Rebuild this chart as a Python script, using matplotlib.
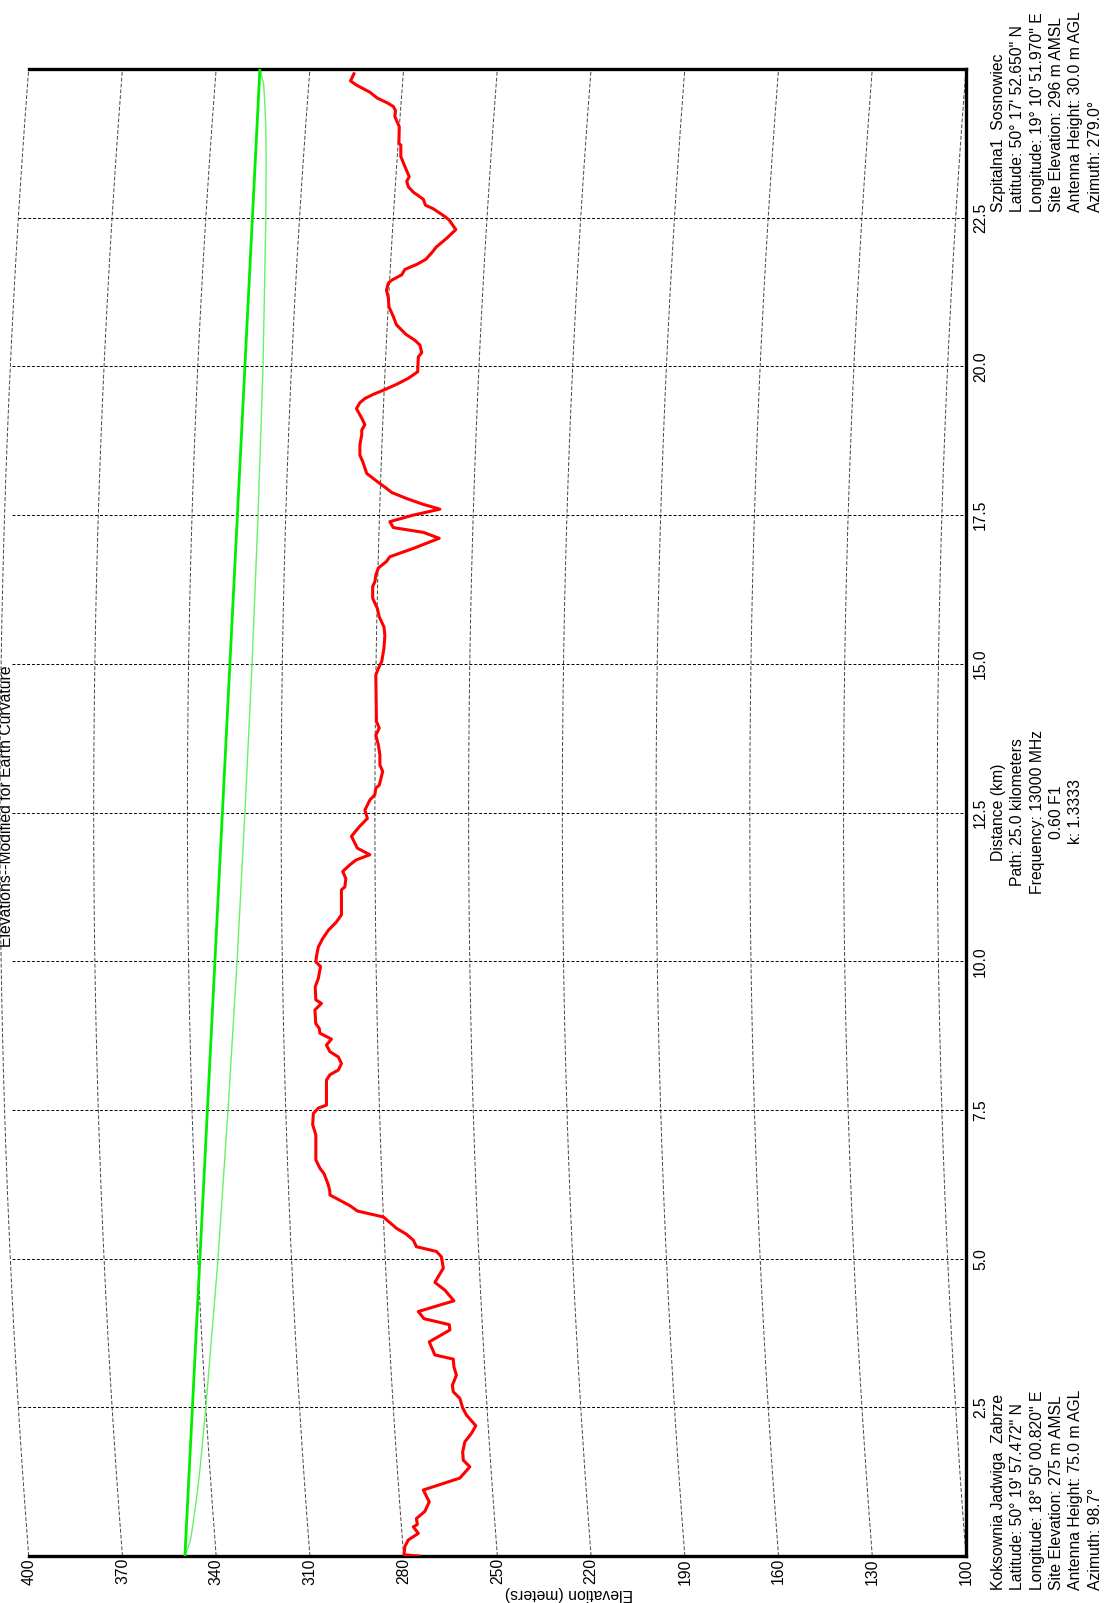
import numpy as np
import matplotlib
matplotlib.use('Agg')
import matplotlib.pyplot as plt

plt.rcParams['font.family'] = ['Liberation Sans', 'DejaVu Sans']

# path profile, distance from site A (km) and elevation as plotted (m)
dist_km = [0.00, 0.02, 0.16, 0.27, 0.38, 0.49, 0.53, 0.63, 0.75, 0.91, 1.11, 1.31, 1.50, 1.61, 1.75,
           1.92, 2.06, 2.19, 2.37, 2.49, 2.65, 2.76, 2.87, 3.04, 3.18, 3.31, 3.38, 3.60, 3.80, 3.89,
           3.99, 4.11, 4.29, 4.47, 4.60, 4.84, 5.03, 5.12, 5.20, 5.31, 5.41, 5.51, 5.70, 5.80, 5.89,
           5.98, 6.07, 6.13, 6.24, 6.43, 6.52, 6.66, 7.08, 7.25, 7.44, 7.53, 7.58, 8.00, 8.09, 8.17,
           8.28, 8.39, 8.48, 8.59, 8.69, 8.79, 8.87, 8.95, 9.18, 9.29, 9.35, 9.57, 9.71, 9.91, 9.99,
           10.08, 10.24, 10.38, 10.52, 10.66, 10.78, 11.20, 11.25, 11.39, 11.51, 11.62, 11.70, 11.79,
           11.90, 12.10, 12.26, 12.40, 12.54, 12.71, 12.80, 12.91, 12.96, 13.19, 13.30, 13.47, 13.64,
           13.80, 13.92, 14.03, 14.81, 14.92, 15.04, 15.26, 15.48, 15.62, 15.79, 15.93, 16.10, 16.30,
           16.38, 16.49, 16.61, 16.72, 16.80, 16.94, 17.11, 17.21, 17.29, 17.39, 17.50, 17.60, 17.68,
           17.78, 17.88, 17.95, 18.07, 18.20, 18.29, 18.40, 18.51, 18.68, 18.85, 18.93, 19.02, 19.13,
           19.29, 19.39, 19.46, 19.53, 19.61, 19.70, 19.80, 19.91, 20.16, 20.23, 20.36, 20.44, 20.54,
           20.70, 20.84, 21.00, 21.16, 21.28, 21.40, 21.45, 21.54, 21.63, 21.72, 21.80, 21.91, 22.01,
           22.15, 22.30, 22.46, 22.52, 22.65, 22.71, 22.81, 22.93, 23.02, 23.11, 23.19, 23.25, 23.36,
           23.53, 23.72, 23.75, 24.03, 24.20, 24.30, 24.37, 24.43, 24.51, 24.61, 24.73, 24.80, 24.92]
elev_m = [275.0, 279.9, 279.6, 278.5, 275.3, 276.9, 275.6, 275.9, 273.2, 271.8, 273.7, 262.0, 258.8, 260.9, 261.1,
          260.4, 258.3, 256.9, 259.9, 261.1, 262.0, 264.1, 264.4, 263.1, 263.9, 264.1, 270.0, 271.8, 265.2, 265.4,
          273.5, 275.3, 263.9, 266.8, 270.0, 267.3, 267.9, 269.5, 275.9, 276.9, 279.1, 282.3, 286.5, 294.8, 297.2,
          300.4, 303.6, 303.6, 304.1, 305.5, 306.8, 308.1, 308.1, 309.1, 308.9, 307.3, 304.7, 304.7, 303.6, 300.9,
          299.9, 300.9, 303.6, 304.7, 303.1, 306.8, 307.0, 308.1, 308.4, 306.3, 308.1, 308.3, 307.3, 306.6, 308.1,
          307.9, 307.3, 305.9, 304.1, 301.5, 299.9, 299.9, 298.8, 298.5, 299.5, 297.2, 295.3, 290.8,
          294.8, 296.7, 294.2, 291.6, 292.4, 290.8, 289.2, 288.9, 287.8, 286.7, 287.6, 287.6, 288.1,
          288.9, 287.8, 288.7, 288.9, 288.1, 287.0, 286.3, 286.0, 286.3, 287.8, 288.4, 289.9, 289.9,
          289.2, 288.9, 288.1, 285.5, 284.4, 276.9, 268.6, 273.7, 283.3, 284.4, 276.9, 268.4, 273.7,
          279.1, 283.8, 285.5, 288.6, 291.8, 292.4, 293.1, 294.0, 294.0, 293.4, 293.4, 292.4, 293.4,
          295.1, 294.0, 292.4, 289.7, 286.0, 282.2, 278.5, 275.5, 275.3, 274.2, 274.8, 276.4, 279.3,
          282.3, 283.3, 284.7, 284.9, 285.5, 284.9, 283.8, 280.6, 279.6, 275.6, 272.9, 271.0, 269.5,
          266.3, 263.3, 265.4, 266.8, 270.5, 273.0, 273.7, 276.9, 278.5, 279.0, 278.2, 278.7, 279.6,
          280.9, 280.9, 281.5, 281.4, 282.8, 282.6, 283.3, 285.2, 288.4, 290.8, 295.1, 297.0, 295.9]

# line of sight between antenna tips (site elevation + antenna height)
los_dist = [0.0, 25.0]
los_elev = [350.0, 326.0]

# lower edge of the 0.60 F1 clearance zone
fres_dist = [0.0, 0.25, 0.5, 1.0, 1.5, 2.5, 5.0, 7.5, 10.0, 12.5, 15.0, 17.5, 20.0, 22.5, 23.5, 24.0, 24.5, 24.75, 25.0]
fres_elev = [350.0, 348.3, 347.5, 346.2, 345.1, 343.3, 339.4, 336.2, 333.3, 330.8, 328.5, 326.6, 325.0, 324.1,
             324.0, 324.1, 324.5, 324.8, 326.0]

elev_ticks = [400, 370, 340, 310, 280, 250, 220, 190, 160, 130, 100]
dist_ticks = [2.5, 5.0, 7.5, 10.0, 12.5, 15.0, 17.5, 20.0, 22.5]

path_len = 25.0
k_factor = 1.3333
earth_r = 6371.0


def bulge(d):
    # earth bulge in metres at distance d along the path
    return d * (path_len - d) / (2 * k_factor * earth_r) * 1000.0


W, H = 1104, 1603
fig = plt.figure(figsize=(W / 100, H / 100), dpi=100)
fig.patch.set_facecolor('white')
x0, x1, y0, y1 = 28.7, 966.0, 69.0, 1556.0
ax = fig.add_axes([x0 / W, 1 - y1 / H, (x1 - x0) / W, (y1 - y0) / H])
ax.set_xlim(400, 100)
ax.set_ylim(0, path_len)

for side in ['top', 'bottom', 'right']:
    ax.spines[side].set_linewidth(2.4)
    ax.spines[side].set_color('black')
ax.spines['left'].set_visible(False)

# curved elevation grid
dd = np.linspace(0, path_len, 200)
for e in elev_ticks:
    ax.plot(e + bulge(dd), dd, color='#444444', lw=0.7, dashes=(4, 2), clip_on=False, zorder=1)

# distance grid
e_left = 400 + (x0 - 12) / ((x1 - x0) / 300)
for d in dist_ticks:
    ax.plot([min(400 + bulge(d), e_left), 100], [d, d], color='black', lw=0.7, dashes=(3, 2),
            clip_on=False, zorder=1)

ax.plot(fres_elev, fres_dist, color='#66f266', lw=1.0, zorder=2)
ax.plot(los_elev, los_dist, color='#00ee00', lw=2.0, zorder=3)
ax.plot(elev_m, dist_km, color='#ff0000', lw=2.2, zorder=4)

ax.set_xticks(elev_ticks)
ax.set_xticklabels([str(v) for v in elev_ticks], rotation=90, fontsize=11.3)
ax.yaxis.tick_right()
ax.set_yticks(dist_ticks)
ax.set_yticklabels(['%.1f' % v for v in dist_ticks], rotation=90, fontsize=11.3, va='center')
ax.tick_params(axis='x', length=0, pad=1.5)
ax.tick_params(axis='y', length=0, pad=5)

fs = 11.3
ls = 1.36
fig.text(14 / W, 1 - 806 / H, 'Elevations--Modified for Earth Curvature', rotation=90,
         ha='right', va='center', fontsize=fs)
fig.text(569 / W, 1 - 1586 / H, 'Elevation (meters)', rotation=180, ha='center', va='top', fontsize=fs)

fig.text(991 / W, 1 - 812 / H,
         'Distance (km)\nPath: 25.0 kilometers\nFrequency: 13000 MHz\n0.60 F1\nk: 1.3333',
         rotation=90, ha='left', va='center', multialignment='center', fontsize=fs, linespacing=ls)
fig.text(991 / W, 1 - 1590 / H,
         'Koksownia Jadwiga  Zabrze\nLatitude: 50\u00b0 19\' 57.472" N\nLongitude: 18\u00b0 50\' 00.820" E\n'
         'Site Elevation: 275 m AMSL\nAntenna Height: 75.0 m AGL\nAzimuth: 98.7\u00b0',
         rotation=90, ha='left', va='bottom', multialignment='left', fontsize=fs, linespacing=ls)
fig.text(991 / W, 1 - 212 / H,
         'Szpitalna1  Sosnowiec\nLatitude: 50\u00b0 17\' 52.650" N\nLongitude: 19\u00b0 10\' 51.970" E\n'
         'Site Elevation: 296 m AMSL\nAntenna Height: 30.0 m AGL\nAzimuth: 279.0\u00b0',
         rotation=90, ha='left', va='bottom', multialignment='left', fontsize=fs, linespacing=ls)

plt.savefig('out.png', dpi=100)
plt.close()
